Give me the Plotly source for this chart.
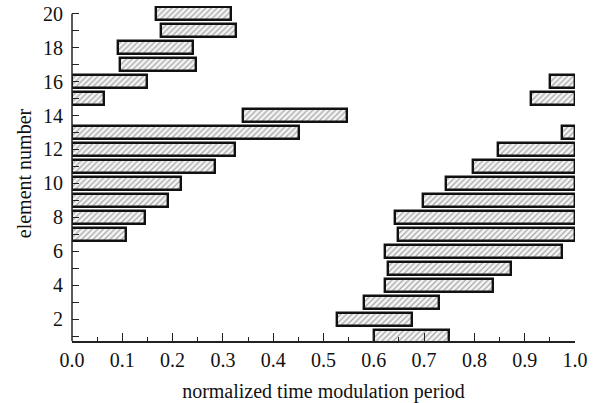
import plotly.graph_objects as go

# element number and the normalized on/off times (wrapping past 1.0 back to 0.0)
elements = list(range(1, 21))
starts = [0.600, 0.527, 0.580, 0.623, 0.628, 0.623, 0.648, 0.643, 0.698, 0.744,
          0.798, 0.846, 0.975, 0.340, 0.912, 0.950, 0.096, 0.0915, 0.177, 0.1665]
ends = [0.750, 0.676, 0.730, 0.836, 0.873, 0.975, 0.108, 0.145, 0.190, 0.216,
        0.285, 0.325, 0.452, 0.547, 0.064, 0.149, 0.247, 0.2415, 0.327, 0.316]

ys, bases, lengths = [], [], []
for e, s, t in zip(elements, starts, ends):
    if t >= s:
        ys.append(e); bases.append(s); lengths.append(t - s)
    else:
        ys.append(e); bases.append(s); lengths.append(1.0 - s)
        ys.append(e); bases.append(0.0); lengths.append(t)

font = "Liberation Serif"
fs = 20
fig = go.Figure()
fig.add_trace(go.Bar(
    y=ys, x=lengths, base=bases, orientation="h", width=0.78,
    marker=dict(color="white",
                line=dict(color="#111", width=2.4),
                pattern=dict(shape="/", fgcolor="#555", bgcolor="#f4f4f4",
                             size=4, solidity=0.3)),
    showlegend=False, hoverinfo="skip"))

fig.update_layout(
    width=598, height=403,
    margin=dict(l=72, r=23, t=6, b=62),
    plot_bgcolor="white", paper_bgcolor="white",
    font=dict(family=font, size=fs, color="#111"),
    bargap=0,
    xaxis=dict(range=[0, 1.0], tickvals=[i / 10 for i in range(11)],
               ticktext=[f"{i/10:.1f}" for i in range(11)],
               automargin=False,
               ticks="inside", ticklen=8, tickwidth=1.3, tickcolor="#222",
               minor=dict(dtick=0.05, ticks="inside", ticklen=4, tickwidth=1.3, tickcolor="#222"),
               showline=True, linecolor="#222", linewidth=1.5, showgrid=False, zeroline=False,
               ticklabelstandoff=0,
               title=dict(text="normalized time modulation period", font=dict(size=fs), standoff=14),
               tickfont=dict(size=fs)),
    yaxis=dict(range=[0.72, 20.45], tickvals=list(range(2, 21, 2)),
               automargin=False,
               ticks="inside", ticklen=7, tickwidth=1.3, tickcolor="#222",
               minor=dict(dtick=1, ticks="inside", ticklen=7, tickwidth=1.3, tickcolor="#222"),
               showline=False, showgrid=False, zeroline=False,
               ticklabelstandoff=8,
               title=dict(text="element number", font=dict(size=fs), standoff=6),
               tickfont=dict(size=fs)),
)
# left axis line spanning from the bottom to element 20
fig.add_shape(type="line", xref="paper", yref="y", x0=0, x1=0, y0=0.72, y1=20.0,
              line=dict(color="#222", width=1.5))
fig.write_html("out.html", post_script="document.body.style.margin='0';",
               config={"displayModeBar": False})
